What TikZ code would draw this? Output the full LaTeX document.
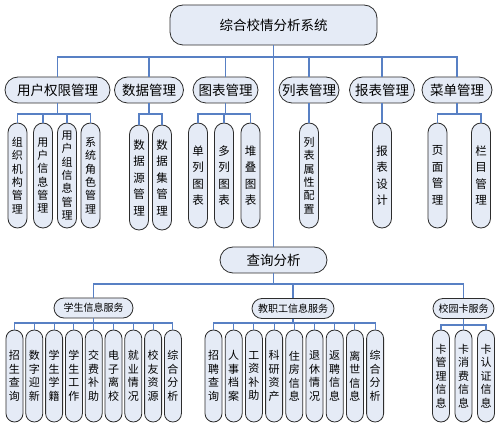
\documentclass[tikz,border=0pt]{standalone}
\usepackage{fontspec}
\newfontfamily\cjk{Noto Sans CJK SC}
\definecolor{nodefill}{RGB}{229,235,246}
\definecolor{linec}{RGB}{88,128,196}
\definecolor{edgec}{RGB}{45,45,45}
\tikzset{
  box/.style={draw=edgec, line width=0.8pt, fill=nodefill, inner sep=0pt, align=center},
  topbox/.style={box, minimum width=207pt, minimum height=40pt, rounded corners=13pt, font=\cjk\fontsize{13.5}{16}\selectfont},
  midbox/.style={box, minimum height=26pt, rounded corners=13pt, font=\cjk\fontsize{13.5}{16}\selectfont},
  svcbox/.style={box, minimum height=20pt, rounded corners=10pt, font=\cjk\fontsize{10}{12}\selectfont},
  leafa/.style={box, minimum width=19pt, minimum height=105pt, rounded corners=9.5pt, font=\cjk\fontsize{11}{13.3}\selectfont},
  leafw/.style={leafa, font=\cjk\fontsize{11.5}{16.5}\selectfont},
  leafb/.style={box, minimum width=17pt, minimum height=92pt, rounded corners=8.5pt, font=\cjk\fontsize{11}{13.5}\selectfont},
  conn/.style={draw=linec, line width=1.1pt}
}
\begin{document}
\begin{tikzpicture}[x=1pt,y=-1pt]
\useasboundingbox (0,0) rectangle (501,430);
\fill[white] (0,0) rectangle (501,430);
% bus coordinates
\coordinate (busA) at (0,57);
\coordinate (busB) at (0,114);
\coordinate (busC) at (0,284);
\coordinate (busD) at (0,323);
\coordinate (busE) at (0,325);

% top
\node[topbox] (top) at (273.5,25) {综合校情分析系统};

% level 2
\node[midbox, minimum width=105pt] (A1) at (57.5,90) {用户权限管理};
\node[midbox, minimum width=69pt] (A2) at (149,90) {数据管理};
\node[midbox, minimum width=65pt] (A3) at (225.5,90) {图表管理};
\node[midbox, minimum width=60pt] (A4) at (309,90) {列表管理};
\node[midbox, minimum width=65pt] (A5) at (382,90) {报表管理};
\node[midbox, minimum width=70pt] (A6) at (457,90) {菜单管理};

% level 3 leaves
\node[leafa] (a11) at (17.5,175.5) {组\\织\\机\\构\\管\\理};
\node[leafa] (a12) at (43,175.5) {用\\户\\信\\息\\管\\理};
\node[leafa] (a13) at (67,175.5) {用\\户\\组\\信\\息\\管\\理};
\node[leafa] (a14) at (90.5,175.5) {系\\统\\角\\色\\管\\理};
\node[leafw] (a21) at (139,177.5) {数\\据\\源\\管\\理};
\node[leafw] (a22) at (162,177.5) {数\\据\\集\\管\\理};
\node[leafw] (a31) at (198,175.5) {单\\列\\图\\表};
\node[leafw] (a32) at (224,175.5) {多\\列\\图\\表};
\node[leafw] (a33) at (250.5,175.5) {堆\\叠\\图\\表};
\node[leafa] (a41) at (309,175.5) {列\\表\\属\\性\\配\\置};
\node[leafw] (a51) at (382,175.5) {报\\表\\设\\计};
\node[leafw] (a61) at (437.5,175.5) {页\\面\\管\\理};
\node[leafw] (a62) at (481,175.5) {栏\\目\\管\\理};

% query node
\node[midbox, minimum width=107pt] (Q) at (273.5,260) {查询分析};

% services
\node[svcbox, minimum width=79pt] (B1) at (93.5,308) {学生信息服务};
\node[svcbox, minimum width=82pt] (B2) at (293,308.5) {教职工信息服务};
\node[svcbox, minimum width=61pt] (B3) at (463.5,308.5) {校园卡服务};

% student leaves
\node[leafb] (s1) at (14.5,376) {招\\生\\查\\询};
\node[leafb] (s2) at (34.3,376) {数\\字\\迎\\新};
\node[leafb] (s3) at (54.1,376) {学\\生\\学\\籍};
\node[leafb] (s4) at (73.9,376) {学\\生\\工\\作};
\node[leafb] (s5) at (93.7,376) {交\\费\\补\\助};
\node[leafb] (s6) at (113.5,376) {电\\子\\离\\校};
\node[leafb] (s7) at (133.3,376) {就\\业\\情\\况};
\node[leafb] (s8) at (153.1,376) {校\\友\\资\\源};
\node[leafb] (s9) at (172.9,376) {综\\合\\分\\析};

% staff leaves
\node[leafb] (t1) at (213.5,376) {招\\聘\\查\\询};
\node[leafb] (t2) at (233.7,376) {人\\事\\档\\案};
\node[leafb] (t3) at (253.9,376) {工\\资\\补\\助};
\node[leafb] (t4) at (274.1,376) {科\\研\\资\\产};
\node[leafb] (t5) at (294.3,376) {住\\房\\信\\息};
\node[leafb] (t6) at (314.5,376) {退\\休\\情\\况};
\node[leafb] (t7) at (334.7,376) {返\\聘\\信\\息};
\node[leafb] (t8) at (354.9,376) {离\\世\\信\\息};
\node[leafb] (t9) at (375.1,376) {综\\合\\分\\析};

% card leaves
\node[leafb] (c1) at (441,376) {卡\\管\\理\\信\\息};
\node[leafb] (c2) at (463.5,376) {卡\\消\\费\\信\\息};
\node[leafb] (c3) at (486,376) {卡\\认\\证\\信\\息};

% connectors (drawn on background via ordering: draw then redraw nodes is not needed since lines end at borders)
\begin{scope}[on background layer/.try]
\end{scope}
\foreach \n in {A1,A2,A3,A4,A5,A6}
  \draw[conn] (top.south) -- (top.south |- busA) -| (\n.north);
\draw[conn] (top.south) -- (Q.north);

\foreach \n in {a11,a12,a13,a14}
  \draw[conn] (A1.south) -- (A1.south |- busB) -| (\n.north);
\foreach \n in {a21,a22}
  \draw[conn] (A2.south) -- (A2.south |- busB) -| (\n.north);
\foreach \n in {a31,a32,a33}
  \draw[conn] (A3.south) -- (A3.south |- busB) -| (\n.north);
\draw[conn] (A4.south) -- (a41.north);
\draw[conn] (A5.south) -- (a51.north);
\foreach \n in {a61,a62}
  \draw[conn] (A6.south) -- (A6.south |- busB) -| (\n.north);

\foreach \n in {B1,B2,B3}
  \draw[conn] (Q.south) -- (Q.south |- busC) -| (\n.north);

\foreach \n in {s1,s2,s3,s4,s5,s6,s7,s8,s9}
  \draw[conn] (B1.south) -- (B1.south |- busD) -| (\n.north);
\foreach \n in {t1,t2,t3,t4,t5,t6,t7,t8,t9}
  \draw[conn] (B2.south) -- (B2.south |- busD) -| (\n.north);
\foreach \n in {c1,c2,c3}
  \draw[conn] (B3.south) -- (B3.south |- busE) -| (\n.north);
\end{tikzpicture}
\end{document}
